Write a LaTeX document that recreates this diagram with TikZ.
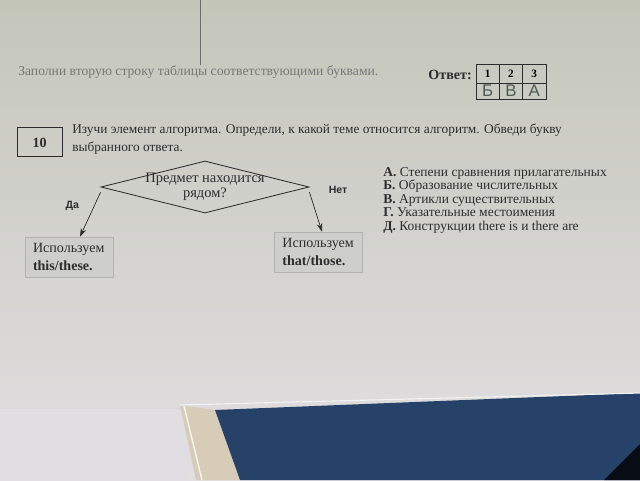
\documentclass[tikz,border=0pt]{standalone}
\usepackage{fontspec}
\setmainfont{Liberation Serif}
\newfontfamily\labelfont{Liberation Sans}
\usetikzlibrary{arrows.meta, shapes.geometric, positioning, calc}
\definecolor{papertop}{RGB}{196, 198, 186}
\definecolor{paperbot}{RGB}{226, 223, 226}
\definecolor{inkcol}{RGB}{45, 45, 45}
\definecolor{pencilcol}{RGB}{80, 90, 86}
\definecolor{boxfill}{RGB}{206, 206, 202}
\definecolor{carpetcol}{RGB}{38, 66, 104}
\definecolor{edgecol}{RGB}{214, 204, 184}
\definecolor{sheetcol}{RGB}{224, 222, 226}

\begin{document}
\begin{tikzpicture}[
    txt/.style={inner sep=0pt, text=inkcol, font=\fontsize{9.5}{12.8}\selectfont},
    decision/.style={diamond, draw=inkcol, line width=0.6pt, minimum width=5.2cm,
                     minimum height=1.3cm, inner sep=0pt},
    answer/.style={rectangle, draw=gray!60, fill=boxfill, text width=1.8cm, inner xsep=0.2cm,
                   minimum height=1cm, align=left, text=inkcol, font=\fontsize{10}{12.5}\selectfont},
    cellbox/.style={rectangle, draw=inkcol, line width=0.5pt, minimum width=0.583cm, inner sep=0pt},
    arr/.style={draw=inkcol, line width=0.5pt, -{Stealth[length=6pt, width=4pt]}},
    branch/.style={font=\labelfont\bfseries\fontsize{7.5}{9}\selectfont, text=inkcol, inner sep=0pt}
  ]
  \useasboundingbox (0,0) rectangle (16,12);

  % Photo background
  \shade[top color=papertop, bottom color=paperbot] (0,0) rectangle (16,12);
  \fill[sheetcol] (0,0) rectangle (4.7,1.8);
  \draw[gray!30] (0,1.8) -- (4.7,1.8);
  \fill[edgecol] (4.5,1.875) -- (5.375,1.75) -- (6.0,0) -- (4.9,0) -- cycle;
  \draw[white!80!edgecol, line width=1pt] (4.6,1.85) -- (5.05,0);
  \fill[carpetcol] (5.375,1.75) -- (16,2.175) -- (16,0) -- (6.0,0) -- cycle;
  \fill[black!80!carpetcol] (15.1,0) -- (16,0.9) -- (16,0) -- cycle;
  \draw[white!90!gray, line width=0.8pt] (4.5,1.875) -- (16,2.175);
  \draw[inkcol!70] (5,12) -- (5,10.375);

  % Header and answer table
  \node[txt, anchor=west, text=inkcol!65, font=\fontsize{9.7}{11}\selectfont] (hint) at (0.45,10.2)
        {Заполни вторую строку таблицы соответствующими буквами.};
  \node[txt, anchor=east, font=\bfseries\fontsize{10}{12}\selectfont] (reply) at (11.8,10.125) {Ответ:};
  \foreach \n/\h [count=\i] in {1/Б, 2/В, 3/А} {
    \node[cellbox, minimum height=0.475cm, font=\bfseries\fontsize{8}{9}\selectfont]
          (head\i) at ({11.9+0.583*(\i-0.5)}, 10.1625) {\n};
    \node[cellbox, minimum height=0.4cm, text=pencilcol, font=\labelfont\fontsize{12}{12}\selectfont]
          (ans\i) at ({11.9+0.583*(\i-0.5)}, 9.725) {\h};
  }

  % Task
  \node[rectangle, draw=inkcol, line width=0.8pt, minimum width=1.125cm, minimum height=0.725cm,
        text=inkcol, font=\bfseries\fontsize{10}{12}\selectfont] (num) at (0.99,8.44) {10};
  \node[txt, anchor=north west, align=left] (task) at (1.8,8.92)
        {Изучи элемент алгоритма. Определи, к какой теме относится алгоритм. Обведи букву\\
         выбранного ответа.};

  % Nodes
  \node[decision] (cond) at (5.125,7.325) {};
  \node[txt, align=center, font=\fontsize{10.3}{11}\selectfont] (condtext) at (cond) {Предмет находится\\рядом?};
  \node[answer] (yes) at (1.725,5.575) {Используем\\\textbf{this/these.}};
  \node[answer] (no) at (7.96,5.7) {Используем\\\textbf{that/those.}};

  % Arrows
  \draw[arr] ([yshift=-0.13cm]cond.west) -- ([xshift=0.275cm]yes.north)
        node[branch, pos=0.3, xshift=-0.55cm] {Да};
  \draw[arr] ([yshift=-0.13cm]cond.east) -- ([xshift=0.09cm]no.north)
        node[branch, pos=0.05, xshift=0.7cm, yshift=0.1cm] {Нет};

  % Options
  \node[txt, anchor=north west, align=left, font=\fontsize{9.6}{9.6}\selectfont] (topics) at (9.575,7.83)
        {\textbf{А.} Степени сравнения прилагательных\\
         \textbf{Б.} Образование числительных\\
         \textbf{В.} Артикли существительных\\
         \textbf{Г.} Указательные местоимения\\
         \textbf{Д.} Конструкции there is и there are};
\end{tikzpicture}
\end{document}
